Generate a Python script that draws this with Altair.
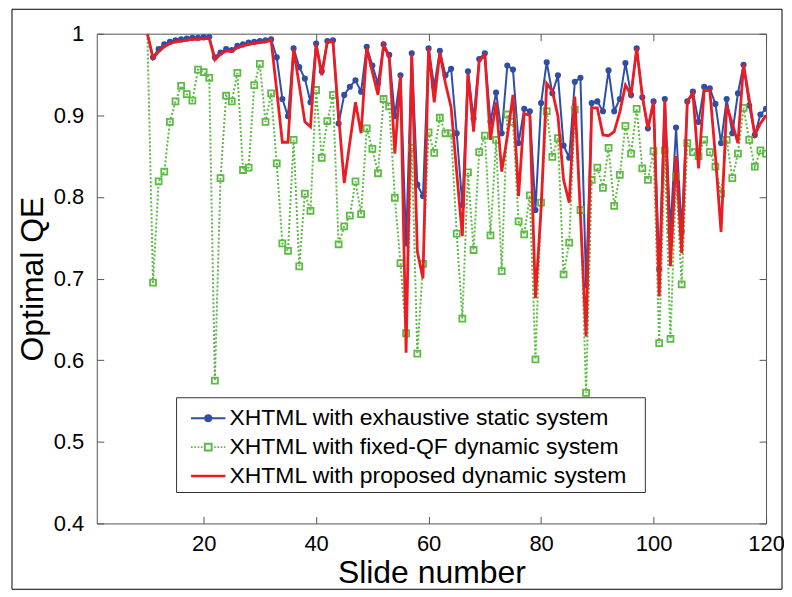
import altair as alt
import pandas as pd

slides = list(range(10, 121))

exhaustive = [
    1.0, 0.971, 0.981, 0.987, 0.990, 0.992, 0.993, 0.994, 0.995, 0.995,
    0.996, 0.996, 0.971, 0.977, 0.981, 0.980, 0.985, 0.987, 0.989, 0.990,
    0.991, 0.992, 0.993, 0.971, 0.920, 0.899, 0.982, 0.959, 0.945, 0.916,
    0.988, 0.954, 0.991, 0.992, 0.890, 0.925, 0.935, 0.943, 0.929, 0.984,
    0.961, 0.939, 0.987, 0.974, 0.899, 0.949, 0.743, 0.976, 0.815, 0.801,
    0.982, 0.935, 0.979, 0.949, 0.957, 0.878, 0.790, 0.954, 0.896, 0.969,
    0.976, 0.892, 0.928, 0.878, 0.961, 0.956, 0.866, 0.908, 0.905, 0.784,
    0.915, 0.965, 0.927, 0.949, 0.863, 0.848, 0.941, 0.946, 0.692, 0.915,
    0.917, 0.905, 0.955, 0.905, 0.920, 0.964, 0.925, 0.982, 0.922, 0.884,
    0.917, 0.711, 0.920, 0.758, 0.885, 0.758, 0.917, 0.929, 0.892, 0.935,
    0.933, 0.914, 0.866, 0.920, 0.878, 0.927, 0.962, 0.912, 0.876, 0.901, 0.908,
]

fixed_qf = [
    1.0, 0.695, 0.819, 0.831, 0.892, 0.917, 0.936, 0.926, 0.918, 0.956,
    0.953, 0.946, 0.575, 0.823, 0.924, 0.917, 0.952, 0.833, 0.836, 0.937,
    0.963, 0.892, 0.927, 0.841, 0.743, 0.734, 0.870, 0.715, 0.804, 0.783,
    0.931, 0.848, 0.893, 0.925, 0.742, 0.764, 0.777, 0.819, 0.779, 0.884,
    0.859, 0.829, 0.920, 0.911, 0.799, 0.719, 0.633, 0.860, 0.608, 0.718,
    0.879, 0.854, 0.897, 0.878, 0.878, 0.755, 0.651, 0.830, 0.735, 0.855,
    0.875, 0.753, 0.870, 0.709, 0.901, 0.892, 0.770, 0.754, 0.802, 0.601,
    0.793, 0.905, 0.849, 0.872, 0.705, 0.744, 0.907, 0.784, 0.560, 0.821,
    0.836, 0.811, 0.860, 0.789, 0.827, 0.887, 0.853, 0.908, 0.835, 0.821,
    0.856, 0.621, 0.857, 0.626, 0.825, 0.693, 0.866, 0.855, 0.850, 0.870,
    0.855, 0.837, 0.804, 0.870, 0.823, 0.853, 0.909, 0.870, 0.837, 0.857, 0.853,
]

proposed = [
    1.0, 0.970, 0.978, 0.984, 0.988, 0.990, 0.991, 0.992, 0.993, 0.993,
    0.994, 0.994, 0.968, 0.975, 0.979, 0.978, 0.983, 0.985, 0.987, 0.988,
    0.989, 0.990, 0.992, 0.930, 0.867, 0.867, 0.981, 0.937, 0.892, 0.886,
    0.987, 0.949, 0.990, 0.990, 0.900, 0.817, 0.867, 0.916, 0.878, 0.982,
    0.953, 0.925, 0.986, 0.971, 0.853, 0.949, 0.609, 0.975, 0.733, 0.700,
    0.982, 0.916, 0.977, 0.939, 0.910, 0.830, 0.752, 0.951, 0.880, 0.967,
    0.974, 0.870, 0.916, 0.831, 0.874, 0.925, 0.801, 0.902, 0.900, 0.676,
    0.785, 0.939, 0.930, 0.899, 0.821, 0.793, 0.923, 0.778, 0.629, 0.909,
    0.909, 0.876, 0.875, 0.880, 0.904, 0.937, 0.925, 0.982, 0.924, 0.884,
    0.917, 0.678, 0.918, 0.715, 0.850, 0.731, 0.917, 0.927, 0.835, 0.930,
    0.931, 0.850, 0.757, 0.912, 0.890, 0.866, 0.962, 0.920, 0.876, 0.890, 0.900,
]

x_ticks = [20, 40, 60, 80, 100, 120]
y_ticks = [0.4, 0.5, 0.6, 0.7, 0.8, 0.9, 1.0]

S1 = "XHTML with exhaustive static system"
S2 = "XHTML with fixed-QF dynamic system"
S3 = "XHTML with proposed dynamic system"
BLUE, GREEN, RED = "#2F4EA6", "#5CBB45", "#EC1C24"
FONT = "Liberation Sans"

n = len(slides)
df = pd.DataFrame({
    "slide": slides * 3,
    "qe": exhaustive + fixed_qf + proposed,
    "series": [S1] * n + [S2] * n + [S3] * n,
})

xscale = alt.Scale(domain=[1, 120], nice=False, zero=False)
yscale = alt.Scale(domain=[0.4, 1.0], nice=False, zero=False)

TICK = 7
AXC = "#555555"
common_axis = dict(grid=False, domain=False, offset=-TICK, tickSize=TICK,
                   tickColor=AXC, labelFont=FONT, labelFontSize=22,
                   labelColor="black", titleFont=FONT, titleFontSize=32,
                   titleFontWeight="normal", titleColor="black",
                   labelFlush=False, labelOverlap=False)

x_bottom = alt.Axis(values=x_ticks, title="Slide number", labelPadding=TICK + 3,
                    titlePadding=3, **common_axis)
y_left = alt.Axis(values=y_ticks, title="Optimal QE", format=".1~f",
                  labelPadding=TICK + 6, titlePadding=4, **common_axis)
x_top = alt.Axis(values=x_ticks, orient="top", labels=False, title=None,
                 grid=False, domain=False, offset=-TICK, tickSize=TICK, tickColor=AXC)
y_right = alt.Axis(values=y_ticks, orient="right", labels=False, title=None,
                   grid=False, domain=False, offset=-TICK, tickSize=TICK, tickColor=AXC)

# legend symbol paths (symbol units; line from L0 to L1, marker at MC)
L0, L1 = -1.0, 5.9
MC = (L0 + L1) / 2
P1 = (f"M{L0},0H{L1}M{MC + 0.6:.2f},0A0.6,0.6,0,1,1,{MC - 0.6:.2f},0"
      f"A0.6,0.6,0,1,1,{MC + 0.6:.2f},0Z")
SQ = 0.68
dots = []
xpos = L0
while xpos < L1 - 0.1:
    a, b = xpos, min(xpos + 0.33, L1)
    if b <= MC - SQ or a >= MC + SQ:
        dots.append(f"M{a:.2f},0H{b:.2f}")
    xpos += 0.66
P2 = "".join(dots) + f"M{MC - SQ:.2f},{-SQ}H{MC + SQ:.2f}V{SQ}H{MC - SQ:.2f}Z"
P3 = f"M{L0},0H{L1}"

LEG_X = 88
LEG_Y0 = 374
LEG_DY = 29


def make_legend(i, path, fill, sw):
    return alt.Legend(
        title=None, orient="none", legendX=LEG_X, legendY=LEG_Y0 + i * LEG_DY,
        labelFont=FONT, labelFontSize=23, labelColor="black", labelLimit=800,
        labelOffset=22, symbolSize=100, symbolOffset=0, symbolType=path,
        symbolFillColor=fill, symbolStrokeWidth=sw,
        padding=0,
    )


base = alt.Chart(df)


def sel(s):
    return base.transform_filter(alt.datum.series == s)


X = alt.X("slide:Q", scale=xscale, axis=None)
Y = alt.Y("qe:Q", scale=yscale, axis=None)

blue_line = sel(S1).mark_line(strokeWidth=2, clip=True).encode(
    x=alt.X("slide:Q", scale=xscale, axis=x_bottom),
    y=alt.Y("qe:Q", scale=yscale, axis=y_left),
    color=alt.Color("series:N", scale=alt.Scale(domain=[S1], range=[BLUE]),
                    legend=make_legend(0, P1, BLUE, 2)),
)
blue_pts = sel(S1).transform_filter(alt.datum.qe < 1).mark_point(
    filled=True, shape="circle", size=38, opacity=1, color=BLUE, clip=True
).encode(x=X, y=Y)
green_line = sel(S2).mark_line(strokeWidth=2, strokeDash=[2, 2], clip=True).encode(
    x=X, y=Y,
    color=alt.Color("series:N", scale=alt.Scale(domain=[S2], range=[GREEN]),
                    legend=make_legend(1, P2, "transparent", 2)),
)
green_pts = sel(S2).transform_filter(alt.datum.qe < 1).mark_point(
    filled=False, shape="square", size=36, strokeWidth=1.8, opacity=1, color=GREEN, clip=True
).encode(x=X, y=Y)
red_line = sel(S3).mark_line(strokeWidth=2.8, clip=True).encode(
    x=X, y=Y,
    color=alt.Color("series:N", scale=alt.Scale(domain=[S3], range=[RED]),
                    legend=make_legend(2, P3, "transparent", 2.6)),
)

axis_layer = base.mark_point(opacity=0).encode(
    x=alt.X("slide:Q", scale=xscale, axis=x_top),
    y=alt.Y("qe:Q", scale=yscale, axis=y_right),
)

deco = alt.Chart(pd.DataFrame({"k": [0]}))
border = deco.mark_rect(fillOpacity=0, stroke="black", strokeWidth=1, clip=False).encode(
    x=alt.value(-85), x2=alt.value(687), y=alt.value(-24.5), y2=alt.value(557))
legend_box = deco.mark_rect(fill="white", stroke="#333333", strokeWidth=1, clip=False).encode(
    x=alt.value(80), x2=alt.value(550), y=alt.value(365), y2=alt.value(460))

chart = alt.layer(
    border, blue_line, blue_pts, green_line, green_pts, red_line, legend_box, axis_layer
).resolve_axis(x="independent", y="independent").resolve_scale(
    color="independent"
).properties(
    width=671, height=491,
    autosize=alt.AutoSizeParams(type="none"),
    padding={"left": 89, "top": 25, "right": 18, "bottom": 70},
    background="white",
).configure_view(stroke=AXC, strokeWidth=1)

chart.save("out.html", embed_options={"renderer": "svg", "actions": False})
